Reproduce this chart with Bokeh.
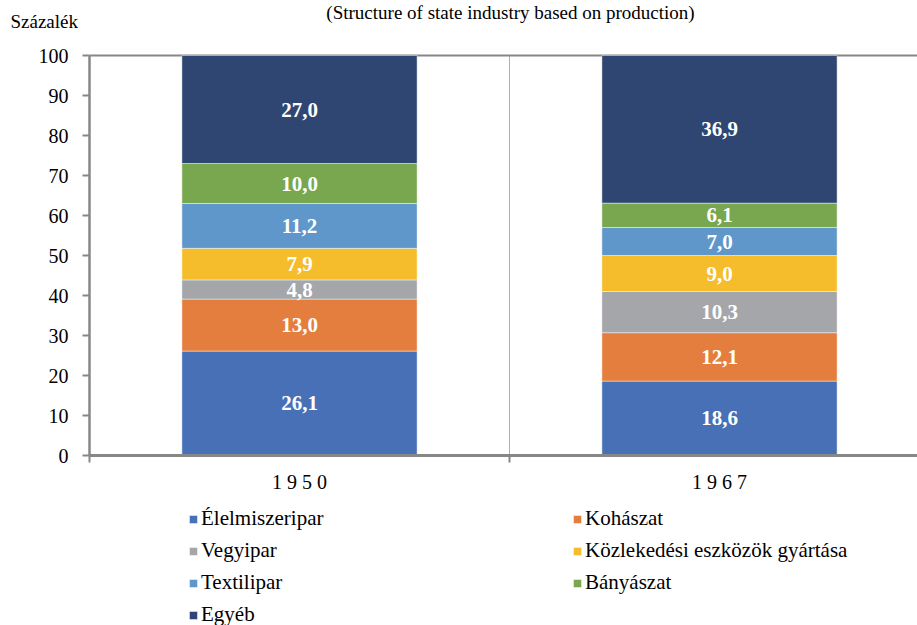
from bokeh.plotting import figure
from bokeh.models import Range1d, FixedTicker, Label, Legend, LegendItem
from bokeh.embed import file_html
from bokeh.resources import INLINE
from bokeh.core.properties import value

# ---- data ----
title_text = "(Structure of state industry based on production)"
unit_label = "Százalék"
years = ["1950", "1967"]
sectors = ["Élelmiszeripar", "Kohászat", "Vegyipar", "Közlekedési eszközök gyártása",
           "Textilipar", "Bányászat", "Egyéb"]
colors = ["#4770b6", "#e47e3e", "#a5a6a9", "#f5bd2b", "#6097cb", "#79a74f", "#304672"]
share_1950 = [26.1, 13.0, 4.8, 7.9, 11.2, 10.0, 27.0]
share_1967 = [18.6, 12.1, 10.3, 9.0, 7.0, 6.1, 36.9]
y_ticks = [0, 10, 20, 30, 40, 50, 60, 70, 80, 90, 100]

FONT = "Liberation Serif"
GREY = "#878787"
series = [share_1950, share_1967]
n = len(years)
x_pos = [i + 0.5 for i in range(n)]
y_min, y_max = min(y_ticks), max(y_ticks)

# whole canvas is the frame: 420 px per category, 4 px per percent
W, H = 917, 625
left_px, top_px, bottom_px = 89, 55, 455
px_x = 420.0
px_y = (bottom_px - top_px) / (y_max - y_min)

p = figure(width=W, height=H, output_backend="svg", toolbar_location=None,
           x_range=Range1d(-left_px / px_x, (W - left_px) / px_x),
           y_range=Range1d(y_min - (H - bottom_px) / px_y, y_max + top_px / px_y),
           min_border=0)
p.outline_line_color = None
p.background_fill_color = "white"
p.border_fill_color = "white"
p.xgrid.visible = False
p.ygrid.visible = False

# separator between categories and top frame line
bounds_x = list(range(1, n))
p.segment(x0=bounds_x, y0=[y_min] * len(bounds_x), x1=bounds_x, y1=[y_max] * len(bounds_x),
          line_color="#b0b0b0", line_width=1)
p.segment(x0=[0], y0=[y_max], x1=[n], y1=[y_max], line_color=GREY, line_width=2)

bottoms = [0.0] * n
items = []
lab_x, lab_y, lab_t = [], [], []
for k, name in enumerate(sectors):
    vals = [s[k] for s in series]
    tops = [b + v for b, v in zip(bottoms, vals)]
    r = p.vbar(x=x_pos, width=0.56, bottom=bottoms, top=tops,
               fill_color=colors[k], line_color="white", line_alpha=0.45,
               line_width=1)
    items.append(LegendItem(label=name, renderers=[r]))
    for xi, b, v in zip(x_pos, bottoms, vals):
        lab_x.append(xi)
        lab_y.append(b + v / 2)
        lab_t.append(f"{v:.1f}".replace(".", ","))
    bottoms = tops

p.text(x=lab_x, y=lab_y, text=lab_t, text_font=value(FONT), text_font_style="bold",
       text_font_size="21px", text_color="white", text_align="center",
       text_baseline="middle")

# x axis
xa = p.xaxis[0]
xa.fixed_location = y_min
xa.bounds = (0, n)
xa.ticker = FixedTicker(ticks=x_pos, minor_ticks=list(range(n + 1)))
xa.major_label_overrides = {x: " ".join(y) for x, y in zip(x_pos, years)}
xa.major_tick_line_color = None
xa.major_tick_out = 7
xa.major_tick_in = 0
xa.minor_tick_line_color = GREY
xa.minor_tick_line_width = 2
xa.minor_tick_out = 7
xa.minor_tick_in = 0
xa.axis_line_color = GREY
xa.axis_line_width = 3
xa.major_label_text_font = FONT
xa.major_label_text_font_size = "20px"
xa.major_label_text_color = "black"
xa.major_label_standoff = 8

# y axis
ya = p.yaxis[0]
ya.fixed_location = 0
ya.bounds = (y_min, y_max)
ya.ticker = FixedTicker(ticks=y_ticks)
ya.minor_tick_line_color = None
ya.major_tick_out = 7
ya.major_tick_in = 0
ya.major_tick_line_color = GREY
ya.major_tick_line_width = 2
ya.axis_line_color = GREY
ya.axis_line_width = 2.5
ya.major_label_text_font = FONT
ya.major_label_text_font_size = "20px"
ya.major_label_text_color = "black"
ya.major_label_standoff = 14

p.add_layout(Label(x=(10 - left_px) / px_x, y=y_max + (top_px - 21) / px_y,
                   text=unit_label, text_font=FONT,
                   text_font_size="19px", text_color="black",
                   text_align="left", text_baseline="middle"))
p.add_layout(Label(x=(510 - left_px) / px_x, y=y_max + (top_px - 1) / px_y,
                   text=title_text, text_font=FONT,
                   text_font_size="19px", text_color="black",
                   text_align="center", text_baseline="top"))

legend = Legend(items=items, orientation="horizontal", ncols=2,
                location=(188, -2), glyph_width=10, glyph_height=10,
                label_standoff=3, label_width=364, label_height=20, spacing=7,
                padding=0, margin=0, border_line_color=None,
                background_fill_alpha=0, label_text_font=FONT,
                label_text_font_size="21px", label_text_color="black")
p.add_layout(legend, "center")

open("out.html", "w").write(file_html(p, INLINE))
